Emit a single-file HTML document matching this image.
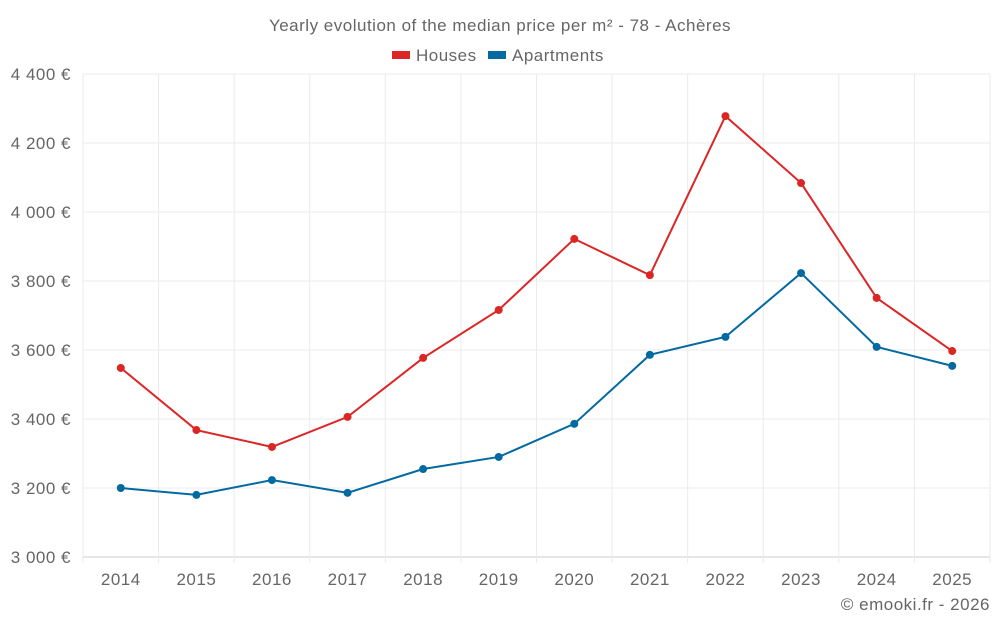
<!DOCTYPE html>
<html><head><meta charset="utf-8"><style>
html,body{margin:0;padding:0;background:#fff;}
svg{display:block;font-family:"Liberation Sans",sans-serif;}
svg text{letter-spacing:0.5px;}
</style></head><body>
<svg id="chart" width="1000" height="625">
<text x="500" y="31" text-anchor="middle" font-size="17" fill="#666">Yearly evolution of the median price per m² - 78 - Achères</text>
<g>
<rect x="392" y="51" width="18" height="8" fill="#dc2626"/>
<text x="416" y="61" font-size="17" fill="#666">Houses</text>
<rect x="488" y="51" width="18" height="8" fill="#0369a1"/>
<text x="512" y="61" font-size="17" fill="#666">Apartments</text>
</g>
<g id="grid"></g><g id="axes"></g><g id="series"></g>
<text x="990" y="610" text-anchor="end" font-size="17" fill="#666">© emooki.fr - 2026</text>
</svg>
<script>
const years = [2014,2015,2016,2017,2018,2019,2020,2021,2022,2023,2024,2025];
const houses = [3548,3368,3319,3406,3577,3716,3922,3817,4278,4084,3751,3597];
const apartments = [3200,3180,3223,3186,3255,3290,3386,3586,3638,3823,3609,3554];
const yTicks = [3000,3200,3400,3600,3800,4000,4200,4400];
const yTickLabels = ["3 000 €","3 200 €","3 400 €","3 600 €","3 800 €","4 000 €","4 200 €","4 400 €"];

const L=83,R=990,T=74,B=557,ymin=3000,ymax=4400;
const NS="http://www.w3.org/2000/svg";
const step=(R-L)/years.length;
function xs(i){return L+step*(i+0.5);}
function ys(v){return B-(v-ymin)/(ymax-ymin)*(B-T);}
function mk(tag,attrs,parent){const e=document.createElementNS(NS,tag);for(const k in attrs)e.setAttribute(k,attrs[k]);parent.appendChild(e);return e;}
const grid=document.getElementById('grid'),axes=document.getElementById('axes'),ser=document.getElementById('series');
yTicks.forEach((v,i)=>{
 const l=mk('line',{x1:L,x2:R,y1:ys(v),y2:ys(v),stroke:i==0?'#ccc':'#ebebeb','stroke-width':1},grid);
 
 
 const t=mk('text',{x:L-12,y:ys(v)+6,'text-anchor':'end','font-size':17,fill:'#666'},axes);
 t.textContent=yTickLabels[i];
 
 
});
for(let i=0;i<=years.length;i++){
 const x=L+step*i;
 const l=mk('line',{x1:x,x2:x,y1:T,y2:B+6,stroke:'#ebebeb','stroke-width':1},grid);
 
 
}
years.forEach((y,i)=>{
 const t=mk('text',{x:xs(i),y:B+28,'text-anchor':'middle','font-size':17,fill:'#666'},axes);
 t.textContent=y;
 
 
});
function draw(data,color,name){
 const p=mk('polyline',{points:data.map((v,i)=>xs(i)+','+ys(v)).join(' '),fill:'none',stroke:color,'stroke-width':2},ser);
 
 
 data.forEach((v,i)=>{
  const c=mk('circle',{cx:xs(i),cy:ys(v),r:4,fill:color},ser);
  
  
 });
}
draw(houses,'#dc2626','houses');
draw(apartments,'#0369a1','apartments');
</script>
</body></html>
